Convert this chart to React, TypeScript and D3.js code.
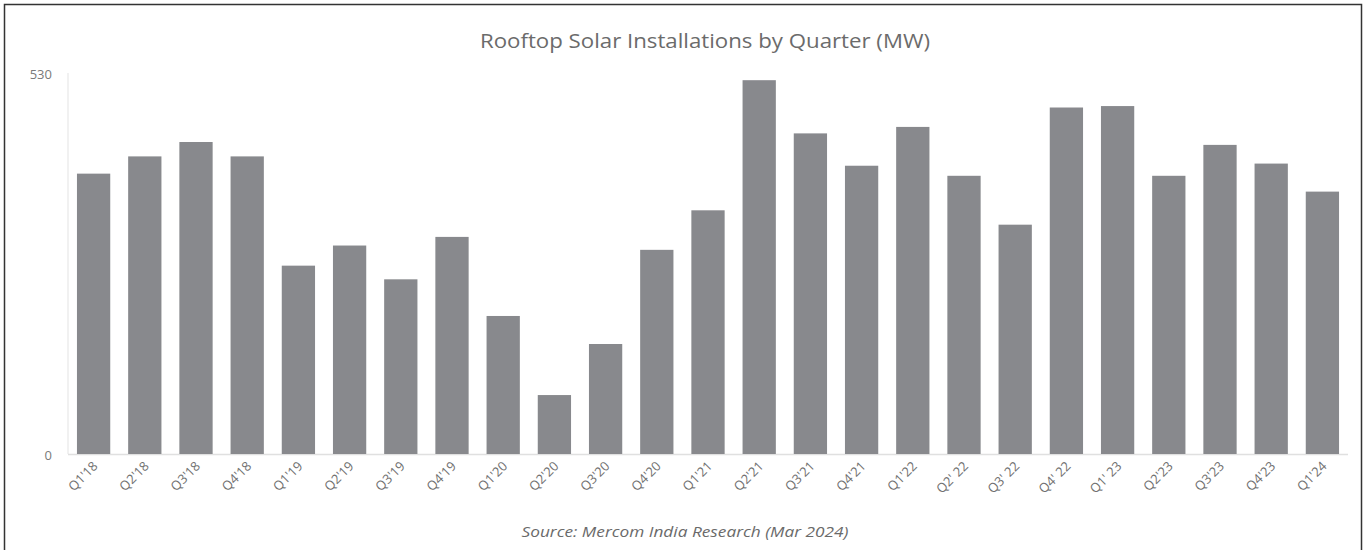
import React from "react";
import * as d3 from "d3";

const categories = [
  "Q1'18", "Q2'18", "Q3'18", "Q4'18",
  "Q1'19", "Q2'19", "Q3'19", "Q4'19",
  "Q1'20", "Q2'20", "Q3'20", "Q4'20",
  "Q1'21", "Q2'21", "Q3'21", "Q4'21",
  "Q1'22", "Q2' 22", "Q3' 22", "Q4' 22",
  "Q1' 23", "Q2'23", "Q3'23", "Q4'23",
  "Q1'24",
];
const installationsMW = [
  390, 414, 434, 414,
  262, 290, 243, 302,
  192, 82, 153, 284,
  339, 520, 446, 401,
  455, 387, 319, 482,
  484, 387, 430, 404,
  365,
];
const yTickValues = [0, 530];
const title = "Rooftop Solar Installations by Quarter (MW)";
const source = "Source: Mercom India Research (Mar 2024)";

const W = 1368;
const H = 550;

export default function App() {
  const x = d3.scaleBand<string>().domain(categories).range([68, 1348]).paddingInner(0.35).paddingOuter(0.175);
  const y = d3.scaleLinear().domain([0, 530]).range([454, 73]);
  const textColor = "#707070";
  const font = "'Open Sans', 'Noto Sans', sans-serif";
  return (
    <svg width={W} height={H} style={{ position: "absolute", left: 0, top: 0, background: "#fff" }}>
      <rect x={4.5} y={4.5} width={1357} height={560} fill="#fff" stroke="#333" strokeWidth={1.5} />
      <text x={705} y={48} textAnchor="middle" fontFamily={font} fontSize={20} fill={"#6b6b6b"}
        textLength={450} lengthAdjust="spacingAndGlyphs">{title}</text>
      <line x1={68} x2={68} y1={73} y2={454} stroke="#e3e3e3" strokeWidth={1} />
      <line x1={68} x2={1348} y1={454.5} y2={454.5} stroke="#e0e0e0" strokeWidth={1.5} />
      {yTickValues.map((v) => (
        <text key={v} x={52} y={y(v) + 1} dy="0.35em" textAnchor="end" fontFamily={font} fontSize={13} fill={"#7a7a7a"}>
          {v}
        </text>
      ))}
      {categories.map((c, i) => (
        <rect key={c} x={x(c)} y={y(installationsMW[i])} width={x.bandwidth()}
          height={y(0) - y(installationsMW[i])} fill="#88898d" />
      ))}
      {categories.map((c) => {
        const cx = (x(c) as number) + x.bandwidth() / 2 + 5;
        const cy = 467;
        return (
          <g key={c} transform={`translate(${cx},${cy})`}>
            <text x={0} y={0} textAnchor="end" fontFamily={font} fontSize={13} fill={textColor}
              transform="rotate(-45)">
              {c}
            </text>
          </g>
        );
      })}
      <text x={685} y={537} textAnchor="middle" fontFamily={font} fontStyle="italic" fontSize={14} fill={"#6a6a6a"}
        textLength={327} lengthAdjust="spacingAndGlyphs">{source}</text>
    </svg>
  );
}
